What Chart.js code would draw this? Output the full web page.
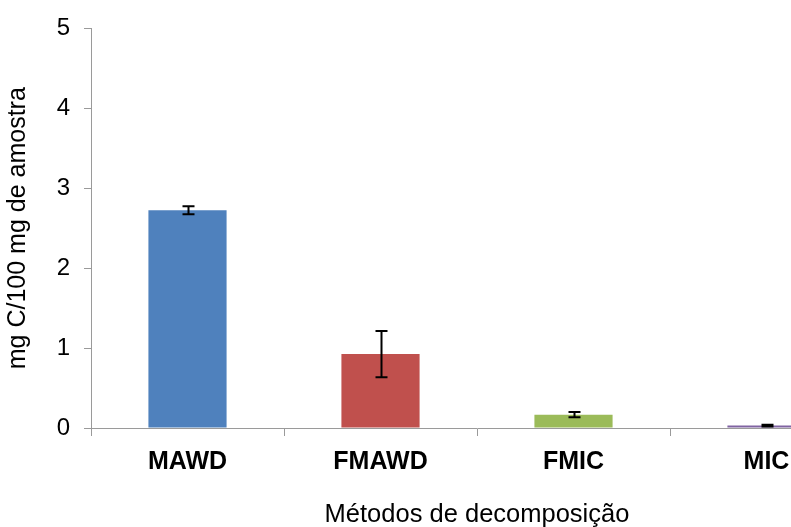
<!DOCTYPE html>
<html>
<head>
<meta charset="utf-8">
<script src="https://cdn.jsdelivr.net/npm/chart.js@4/dist/chart.umd.min.js"></script>
<style>
  html, body { margin: 0; padding: 0; background: #fff; overflow: hidden; }
  #wrap { width: 872px; height: 527px; }
</style>
</head>
<body>
<div id="wrap"><canvas id="c" width="872" height="527"></canvas></div>
<script>
// Carbon content by decomposition method (mean ± error)
const categories = ['MAWD', 'FMAWD', 'FMIC', 'MIC'];
const values = [2.725, 0.925, 0.166, 0.03];
const errors = [0.05, 0.29, 0.033, 0.01];
const barColors = ['#4F81BD', '#C0504D', '#9BBB59', '#8064A2'];
const yTicks = [0, 1, 2, 3, 4, 5];

const FONT = "'Liberation Sans', Arial, sans-serif";

// Draws the error bars from the value/error arrays through the y scale
const errorBars = {
  id: 'errorBars',
  afterDatasetsDraw(chart) {
    const ctx = chart.ctx;
    const meta = chart.getDatasetMeta(0);
    const y = chart.scales.y;
    ctx.save();
    ctx.strokeStyle = '#000';
    ctx.lineWidth = 2;
    meta.data.forEach((bar, i) => {
      const x = Math.round(bar.x) + 0.5;
      const top = y.getPixelForValue(values[i] + errors[i]);
      const bot = y.getPixelForValue(values[i] - errors[i]);
      const cap = 6;
      ctx.beginPath();
      ctx.moveTo(x, top); ctx.lineTo(x, bot);
      ctx.moveTo(x - cap, top); ctx.lineTo(x + cap, top);
      ctx.moveTo(x - cap, bot); ctx.lineTo(x + cap, bot);
      ctx.stroke();
    });
    ctx.restore();
  }
};

new Chart(document.getElementById('c'), {
  type: 'bar',
  data: {
    labels: categories,
    datasets: [{
      data: values,
      backgroundColor: barColors,
      borderWidth: 0,
      barPercentage: 1,
      categoryPercentage: 0.405
    }]
  },
  options: {
    responsive: false,
    animation: false,
    devicePixelRatio: 1,
    layout: { padding: { top: 25, right: 9, left: 0, bottom: 0 } },
    plugins: {
      legend: { display: false },
      tooltip: { enabled: false }
    },
    scales: {
      x: {
        afterFit(s) { s.height = 99; },
        grid: {
          offset: true,
          drawOnChartArea: false,
          drawTicks: true,
          tickLength: 8,
          color: '#9a9a9a'
        },
        border: { color: '#9a9a9a', width: 1 },
        ticks: {
          color: '#000',
          padding: 11,
          font: { family: FONT, size: 25, weight: 'bold' }
        },
        title: {
          display: true,
          text: 'Métodos de decomposição',
          color: '#000',
          padding: { top: 0, bottom: -3 },
          font: { family: FONT, size: 25.5 }
        }
      },
      y: {
        min: 0,
        max: 5,
        afterFit(s) { s.width = 91; },
        afterBuildTicks(s) { s.ticks = yTicks.map(v => ({ value: v })); },
        grid: {
          drawOnChartArea: false,
          tickLength: 7,
          color: '#9a9a9a'
        },
        border: { color: '#9a9a9a', width: 1 },
        ticks: {
          color: '#000',
          padding: 14,
          font: { family: FONT, size: 24 }
        },
        title: {
          display: true,
          text: 'mg C/100 mg de amostra',
          color: '#000',
          padding: { top: 3, bottom: 0 },
          font: { family: FONT, size: 25 }
        }
      }
    }
  },
  plugins: [errorBars]
});
</script>
</body>
</html>
